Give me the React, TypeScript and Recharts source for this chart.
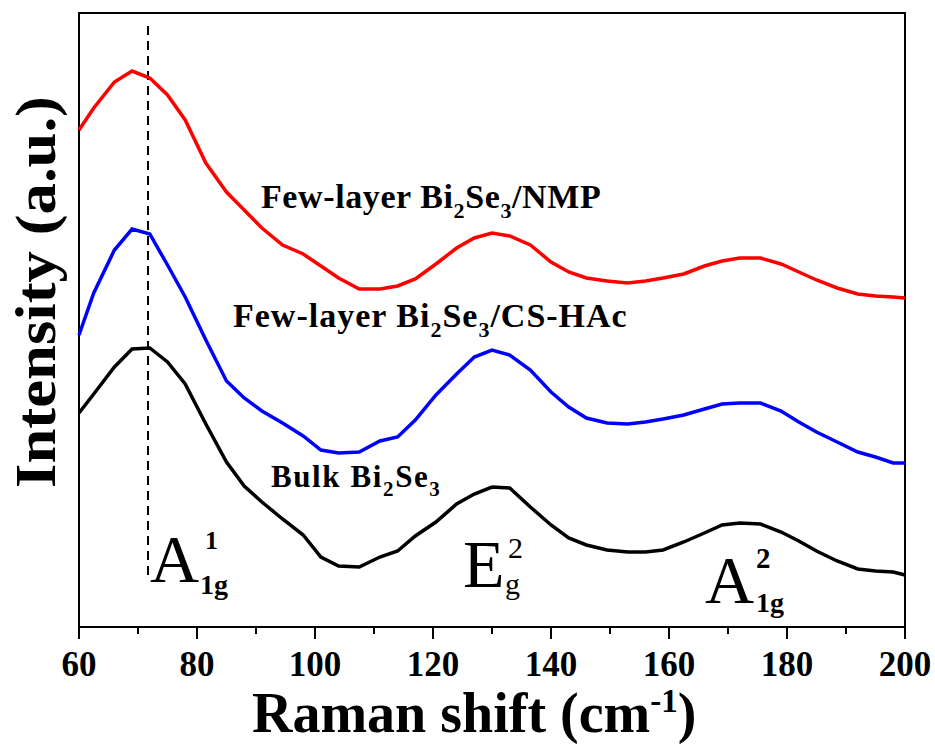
import { LineChart, Line, XAxis, YAxis, ReferenceArea, ReferenceLine } from 'recharts';

// Raman shift grid (cm-1)
const shift = [60, 62.5, 66, 69, 72, 75, 78, 81.5, 85, 88, 91, 94.5, 98, 101, 104, 107.5, 111, 114, 117, 120.5, 124, 127, 130, 133, 136.5, 140, 143, 146, 149.5, 153, 156, 159, 162.5, 166, 169, 172, 175.5, 179, 182, 185, 188.5, 192, 195, 198, 200];

// intensities (a.u., offset stacked)
const nmp = [497, 519, 545, 556, 549, 532, 507, 464, 435, 417, 399, 382, 373, 361, 349, 338, 338, 341, 348, 363, 379, 389, 394, 391, 382, 365, 355, 349, 346, 344, 346, 349, 353, 361, 366, 369, 369, 363, 355, 347, 339, 333, 331, 330, 329];
const csHac = [292, 334, 377, 398, 393, 362, 330, 287, 246, 229, 216, 204, 191, 177, 174, 175, 186, 190, 207, 232, 253, 270, 277, 272, 257, 235, 220, 209, 204, 203, 205, 208, 212, 218, 223, 224, 224, 216, 205, 195, 185, 175, 170, 164, 164];
const bulk = [214, 233, 260, 278, 279, 265, 243, 203, 165, 141, 125, 108, 92, 70, 61, 60, 70, 76, 91, 105, 123, 133, 140, 139, 120, 102, 89, 82, 77, 75, 75, 77, 85, 94, 102, 104, 103, 95, 86, 76, 66, 58, 56, 55, 52];

const xTicks = [60, 70, 80, 90, 100, 110, 120, 130, 140, 150, 160, 170, 180, 190, 200];
const a1gLine = 71.7;

const table = shift.map((s, i) => ({ shift: s, nmp: nmp[i], csHac: csHac[i], bulk: bulk[i] }));

const serif = '"Liberation Serif", "Times New Roman", serif';

function Tick(props: any) {
  const { x, y, payload } = props;
  const major = payload.value % 20 === 0;
  return (
    <g>
      <line x1={x} y1={y} x2={x} y2={y + (major ? 12 : 7)} stroke="#000" strokeWidth={2} />
      {major && (
        <text x={x} y={y + 49} textAnchor="middle" fontFamily={serif} fontWeight="bold" fontSize={35} fill="#000">
          {payload.value}
        </text>
      )}
    </g>
  );
}

function Labels() {
  const bold = { fontFamily: serif, fontWeight: 'bold' as const, fill: '#000' };
  return (
    <svg width={935} height={744} style={{ position: 'absolute', left: 0, top: 0, pointerEvents: 'none' }}>
      <text {...bold} x={261} y={208} fontSize={34} letterSpacing={0.6}>
        Few-layer Bi<tspan dy={10} fontSize={22}>2</tspan><tspan dy={-10}>Se</tspan><tspan dy={10} fontSize={22}>3</tspan><tspan dy={-10}>/NMP</tspan>
      </text>
      <text {...bold} x={233} y={327} fontSize={34} letterSpacing={1}>
        Few-layer Bi<tspan dy={10} fontSize={22}>2</tspan><tspan dy={-10}>Se</tspan><tspan dy={10} fontSize={22}>3</tspan><tspan dy={-10}>/CS-HAc</tspan>
      </text>
      <text {...bold} x={271} y={487} fontSize={31} letterSpacing={1.6}>
        Bulk Bi<tspan dy={9} fontSize={21}>2</tspan><tspan dy={-9}>Se</tspan><tspan dy={9} fontSize={21}>3</tspan>
      </text>

      <text x={150} y={582} fontFamily={serif} fontSize={68} fill="#000">A</text>
      <text {...bold} x={205} y={549} fontSize={26}>1</text>
      <text {...bold} x={200} y={594} fontSize={28}>1g</text>

      <text x={463} y={587} fontFamily={serif} fontSize={68} fill="#000">E</text>
      <text x={508} y={558} fontFamily={serif} fontSize={30} fill="#000">2</text>
      <text x={505} y={594} fontFamily={serif} fontSize={30} fill="#000">g</text>

      <text x={705} y={603} fontFamily={serif} fontSize={68} fill="#000">A</text>
      <text {...bold} x={756} y={568} fontSize={29}>2</text>
      <text {...bold} x={756} y={612} fontSize={28}>1g</text>

      <text {...bold} x={252} y={732} fontSize={56}>
        Raman shift (cm<tspan dy={-20} fontSize={33}>-1</tspan><tspan dy={20}>)</tspan>
      </text>
      <text
        {...bold}
        x={0}
        y={0}
        fontSize={58}
        textAnchor="middle"
        textLength={392}
        lengthAdjust="spacingAndGlyphs"
        transform="translate(55,292) rotate(-90)"
      >
        Intensity (a.u.)
      </text>
    </svg>
  );
}

export default function App() {
  return (
    <div style={{ position: 'absolute', left: 0, top: 0, width: 935, height: 744, background: '#fff' }}>
      <LineChart width={935} height={744} data={table} margin={{ top: 13, right: 30, left: 79, bottom: 0 }}>
        <XAxis
          dataKey="shift"
          type="number"
          domain={[60, 200]}
          ticks={xTicks}
          interval={0}
          height={117}
          tickSize={0}
          tickMargin={0}
          tickLine={false}
          axisLine={{ stroke: '#000', strokeWidth: 2 }}
          tick={<Tick />}
        />
        <YAxis hide type="number" domain={[0, 614]} />
        <ReferenceArea x1={60} x2={200} y1={0} y2={614} fill="none" stroke="#000" strokeWidth={2} ifOverflow="visible" />
        <ReferenceLine
          segment={[{ x: a1gLine, y: 52 }, { x: a1gLine, y: 602 }]}
          stroke="#000"
          strokeWidth={2}
          strokeDasharray="9 6"
        />
        <Line type="linear" dataKey="nmp" stroke="#ff0000" strokeWidth={3.5} dot={false} isAnimationActive={false} />
        <Line type="linear" dataKey="csHac" stroke="#0000ff" strokeWidth={3.5} dot={false} isAnimationActive={false} />
        <Line type="linear" dataKey="bulk" stroke="#000000" strokeWidth={3.5} dot={false} isAnimationActive={false} />
      </LineChart>
      <Labels />
    </div>
  );
}
